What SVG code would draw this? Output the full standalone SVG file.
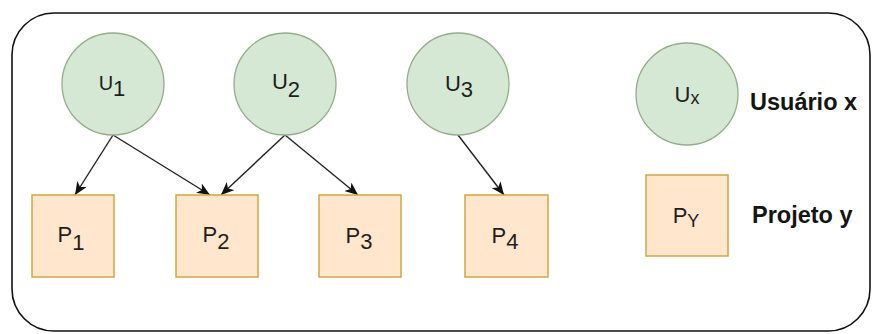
<svg xmlns="http://www.w3.org/2000/svg" width="872" height="334" viewBox="0 0 872 334">
  <style>
    .u { fill: #d5e8d4; stroke: #93ad8a; stroke-width: 1.3; }
    .p { fill: #ffe6cc; stroke: #d4a640; stroke-width: 1.5; }
    .lbl { font-family: "Liberation Sans", Arial, sans-serif; font-size: 22px; fill: #1e1e1e; text-anchor: middle; }
    .leg { font-family: "Liberation Sans", Arial, sans-serif; font-size: 23.5px; font-weight: bold; fill: #141414; }
    .edge { stroke: #222; stroke-width: 1.4; fill: none; marker-end: url(#arr); }
  </style>
  <defs>
    <marker id="arr" markerUnits="userSpaceOnUse" markerWidth="13" markerHeight="11" viewBox="0 0 13 11" refX="13" refY="5.5" orient="auto">
      <path d="M0,0 L13,5.5 L0,11 L3.5,5.5 z" fill="#111"/>
    </marker>
  </defs>
  <rect x="12" y="13" width="858" height="318" rx="42" ry="42" fill="#fff" stroke="#111" stroke-width="1.6"/>
  <g id="connectors">
    <line class="edge" x1="113" y1="135" x2="75" y2="195"/>
    <line class="edge" x1="113" y1="135" x2="210" y2="195"/>
    <line class="edge" x1="285" y1="135" x2="221" y2="195"/>
    <line class="edge" x1="285" y1="135" x2="358" y2="195"/>
    <line class="edge" x1="458" y1="135" x2="504" y2="195"/>
  </g>
  <g id="U1">
    <circle class="u" cx="113" cy="84" r="51"/>
    <text class="lbl" x="112" y="90"><tspan font-size="20">U</tspan><tspan dy="6">1</tspan></text>
  </g>
  <g id="U2">
    <circle class="u" cx="285" cy="84" r="51"/>
    <text class="lbl" x="286" y="89">U<tspan dy="8">2</tspan></text>
  </g>
  <g id="U3">
    <circle class="u" cx="458" cy="84" r="51"/>
    <text class="lbl" x="459" y="91">U<tspan dy="6">3</tspan></text>
  </g>
  <g id="Ux">
    <circle class="u" cx="687" cy="94" r="51"/>
    <text class="lbl" x="687" y="102">U<tspan dy="2" font-size="18">x</tspan></text>
  </g>
  <g id="P1">
    <rect class="p" x="32" y="195" width="82" height="82"/>
    <text class="lbl" x="71" y="242">P<tspan dy="8">1</tspan></text>
  </g>
  <g id="P2">
    <rect class="p" x="176" y="195" width="82" height="82"/>
    <text class="lbl" x="216" y="242">P<tspan dy="7">2</tspan></text>
  </g>
  <g id="P3">
    <rect class="p" x="319" y="195" width="82" height="82"/>
    <text class="lbl" x="359" y="243">P<tspan dy="6">3</tspan></text>
  </g>
  <g id="P4">
    <rect class="p" x="465" y="195" width="83" height="82"/>
    <text class="lbl" x="505" y="243">P<tspan dy="6">4</tspan></text>
  </g>
  <g id="Py">
    <rect class="p" x="646" y="175" width="82" height="81"/>
    <text class="lbl" x="686" y="223">P<tspan dy="4" font-size="18">Y</tspan></text>
  </g>
  <g id="legend-u">
    <text class="leg" x="750" y="110">Usuário x</text>
  </g>
  <g id="legend-p">
    <text class="leg" x="752" y="223">Projeto y</text>
  </g>
</svg>
